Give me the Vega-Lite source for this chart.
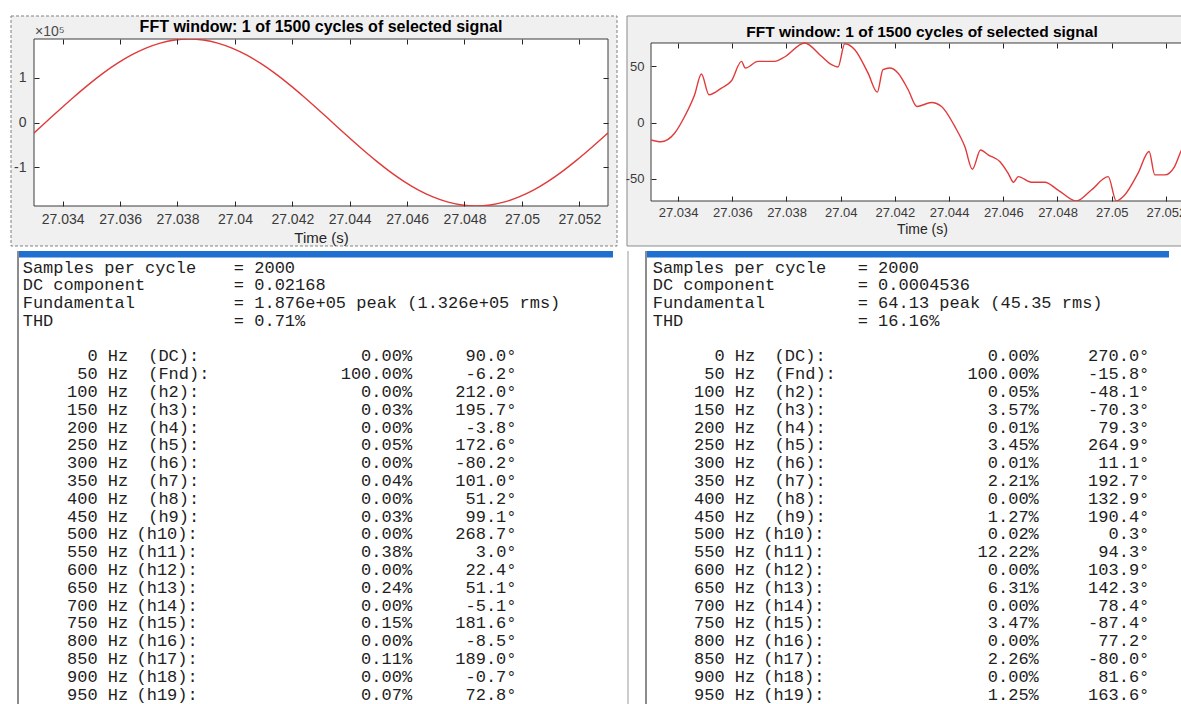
{
  "$schema": "https://vega.github.io/schema/vega-lite/v6.json",
  "background": "white",
  "padding": {"left": 10, "top": 15, "right": 0, "bottom": 0},
  "config": {"view": {"stroke": null}, "font": "Liberation Sans"},
  "datasets": {
    "sine": [
      {"t": 27.0329, "v": -29341}, {"t": 27.0334, "v": 0}, {"t": 27.0339, "v": 29341}, {"t": 27.0344, "v": 57968},
      {"t": 27.0349, "v": 85170}, {"t": 27.0354, "v": 110271}, {"t": 27.0359, "v": 132652}, {"t": 27.0364, "v": 151768},
      {"t": 27.0369, "v": 167152}, {"t": 27.0374, "v": 178426}, {"t": 27.0379, "v": 185293}, {"t": 27.0384, "v": 187600},
      {"t": 27.0389, "v": 185293}, {"t": 27.0394, "v": 178426}, {"t": 27.0399, "v": 167152}, {"t": 27.0404, "v": 151768},
      {"t": 27.0409, "v": 132652}, {"t": 27.0414, "v": 110271}, {"t": 27.0419, "v": 85170}, {"t": 27.0424, "v": 57968},
      {"t": 27.0429, "v": 29341}, {"t": 27.0434, "v": 0}, {"t": 27.0439, "v": -29341}, {"t": 27.0444, "v": -57968},
      {"t": 27.0449, "v": -85170}, {"t": 27.0454, "v": -110271}, {"t": 27.0459, "v": -132652}, {"t": 27.0464, "v": -151768},
      {"t": 27.0469, "v": -167152}, {"t": 27.0474, "v": -178426}, {"t": 27.0479, "v": -185293}, {"t": 27.0484, "v": -187600},
      {"t": 27.0489, "v": -185293}, {"t": 27.0494, "v": -178426}, {"t": 27.0499, "v": -167152}, {"t": 27.0504, "v": -151768},
      {"t": 27.0509, "v": -132652}, {"t": 27.0514, "v": -110271}, {"t": 27.0519, "v": -85170}, {"t": 27.0524, "v": -57968},
      {"t": 27.0529, "v": -29341}, {"t": 27.0534, "v": 0}
    ],
    "distorted": [
      {"t": 27.0330, "v": -15.5}, {"t": 27.03336, "v": -17.1}, {"t": 27.03387, "v": -9.5}, {"t": 27.03424, "v": 5.3},
      {"t": 27.03461, "v": 24.6}, {"t": 27.03486, "v": 42.9}, {"t": 27.03514, "v": 24.6}, {"t": 27.0356, "v": 30.4},
      {"t": 27.03597, "v": 37.0}, {"t": 27.03634, "v": 54.1}, {"t": 27.03648, "v": 48.2}, {"t": 27.03695, "v": 54.1},
      {"t": 27.03756, "v": 54.1}, {"t": 27.03793, "v": 58.0}, {"t": 27.03867, "v": 70.4}, {"t": 27.03929, "v": 58.6},
      {"t": 27.03966, "v": 51.2}, {"t": 27.0399, "v": 49.1}, {"t": 27.04015, "v": 69.8}, {"t": 27.04052, "v": 64.5},
      {"t": 27.04101, "v": 43.7}, {"t": 27.04135, "v": 26.9}, {"t": 27.04156, "v": 46.8}, {"t": 27.04181, "v": 48.2},
      {"t": 27.04212, "v": 43.7}, {"t": 27.04249, "v": 29.0}, {"t": 27.04281, "v": 14.2}, {"t": 27.04335, "v": 17.7},
      {"t": 27.04372, "v": 14.2}, {"t": 27.04421, "v": -3.5}, {"t": 27.04458, "v": -21.3}, {"t": 27.04486, "v": -41.4},
      {"t": 27.04516, "v": -24.3}, {"t": 27.04544, "v": -28.7}, {"t": 27.04587, "v": -34.6}, {"t": 27.04618, "v": -45.0},
      {"t": 27.04638, "v": -52.9}, {"t": 27.04655, "v": -47.9}, {"t": 27.04704, "v": -52.9}, {"t": 27.04753, "v": -52.9},
      {"t": 27.04802, "v": -59.8}, {"t": 27.0487, "v": -69.5}, {"t": 27.04925, "v": -59.8}, {"t": 27.04987, "v": -47.9},
      {"t": 27.05017, "v": -69.5}, {"t": 27.05048, "v": -64.2}, {"t": 27.05097, "v": -45.0}, {"t": 27.05138, "v": -25.7},
      {"t": 27.05159, "v": -46.4}, {"t": 27.05196, "v": -46.4}, {"t": 27.05232, "v": -39.0}, {"t": 27.05261, "v": -22.8},
      {"t": 27.0530, "v": -15.5}
    ],
    "leftHeader": [
      {"line": 0, "label": "Samples per cycle", "value": "= 2000"},
      {"line": 1, "label": "DC component", "value": "= 0.02168"},
      {"line": 2, "label": "Fundamental", "value": "= 1.876e+05 peak (1.326e+05 rms)"},
      {"line": 3, "label": "THD", "value": "= 0.71%"}
    ],
    "leftHarm": [
      {"line": 5, "freq": "0 Hz", "name": "(DC):", "mag": "0.00%", "phase": "90.0°"},
      {"line": 6, "freq": "50 Hz", "name": "(Fnd):", "mag": "100.00%", "phase": "-6.2°"},
      {"line": 7, "freq": "100 Hz", "name": "(h2):", "mag": "0.00%", "phase": "212.0°"},
      {"line": 8, "freq": "150 Hz", "name": "(h3):", "mag": "0.03%", "phase": "195.7°"},
      {"line": 9, "freq": "200 Hz", "name": "(h4):", "mag": "0.00%", "phase": "-3.8°"},
      {"line": 10, "freq": "250 Hz", "name": "(h5):", "mag": "0.05%", "phase": "172.6°"},
      {"line": 11, "freq": "300 Hz", "name": "(h6):", "mag": "0.00%", "phase": "-80.2°"},
      {"line": 12, "freq": "350 Hz", "name": "(h7):", "mag": "0.04%", "phase": "101.0°"},
      {"line": 13, "freq": "400 Hz", "name": "(h8):", "mag": "0.00%", "phase": "51.2°"},
      {"line": 14, "freq": "450 Hz", "name": "(h9):", "mag": "0.03%", "phase": "99.1°"},
      {"line": 15, "freq": "500 Hz", "name": "(h10):", "mag": "0.00%", "phase": "268.7°"},
      {"line": 16, "freq": "550 Hz", "name": "(h11):", "mag": "0.38%", "phase": "3.0°"},
      {"line": 17, "freq": "600 Hz", "name": "(h12):", "mag": "0.00%", "phase": "22.4°"},
      {"line": 18, "freq": "650 Hz", "name": "(h13):", "mag": "0.24%", "phase": "51.1°"},
      {"line": 19, "freq": "700 Hz", "name": "(h14):", "mag": "0.00%", "phase": "-5.1°"},
      {"line": 20, "freq": "750 Hz", "name": "(h15):", "mag": "0.15%", "phase": "181.6°"},
      {"line": 21, "freq": "800 Hz", "name": "(h16):", "mag": "0.00%", "phase": "-8.5°"},
      {"line": 22, "freq": "850 Hz", "name": "(h17):", "mag": "0.11%", "phase": "189.0°"},
      {"line": 23, "freq": "900 Hz", "name": "(h18):", "mag": "0.00%", "phase": "-0.7°"},
      {"line": 24, "freq": "950 Hz", "name": "(h19):", "mag": "0.07%", "phase": "72.8°"}
    ],
    "rightHeader": [
      {"line": 0, "label": "Samples per cycle", "value": "= 2000"},
      {"line": 1, "label": "DC component", "value": "= 0.0004536"},
      {"line": 2, "label": "Fundamental", "value": "= 64.13 peak (45.35 rms)"},
      {"line": 3, "label": "THD", "value": "= 16.16%"}
    ],
    "rightHarm": [
      {"line": 5, "freq": "0 Hz", "name": "(DC):", "mag": "0.00%", "phase": "270.0°"},
      {"line": 6, "freq": "50 Hz", "name": "(Fnd):", "mag": "100.00%", "phase": "-15.8°"},
      {"line": 7, "freq": "100 Hz", "name": "(h2):", "mag": "0.05%", "phase": "-48.1°"},
      {"line": 8, "freq": "150 Hz", "name": "(h3):", "mag": "3.57%", "phase": "-70.3°"},
      {"line": 9, "freq": "200 Hz", "name": "(h4):", "mag": "0.01%", "phase": "79.3°"},
      {"line": 10, "freq": "250 Hz", "name": "(h5):", "mag": "3.45%", "phase": "264.9°"},
      {"line": 11, "freq": "300 Hz", "name": "(h6):", "mag": "0.01%", "phase": "11.1°"},
      {"line": 12, "freq": "350 Hz", "name": "(h7):", "mag": "2.21%", "phase": "192.7°"},
      {"line": 13, "freq": "400 Hz", "name": "(h8):", "mag": "0.00%", "phase": "132.9°"},
      {"line": 14, "freq": "450 Hz", "name": "(h9):", "mag": "1.27%", "phase": "190.4°"},
      {"line": 15, "freq": "500 Hz", "name": "(h10):", "mag": "0.02%", "phase": "0.3°"},
      {"line": 16, "freq": "550 Hz", "name": "(h11):", "mag": "12.22%", "phase": "94.3°"},
      {"line": 17, "freq": "600 Hz", "name": "(h12):", "mag": "0.00%", "phase": "103.9°"},
      {"line": 18, "freq": "650 Hz", "name": "(h13):", "mag": "6.31%", "phase": "142.3°"},
      {"line": 19, "freq": "700 Hz", "name": "(h14):", "mag": "0.00%", "phase": "78.4°"},
      {"line": 20, "freq": "750 Hz", "name": "(h15):", "mag": "3.47%", "phase": "-87.4°"},
      {"line": 21, "freq": "800 Hz", "name": "(h16):", "mag": "0.00%", "phase": "77.2°"},
      {"line": 22, "freq": "850 Hz", "name": "(h17):", "mag": "2.26%", "phase": "-80.0°"},
      {"line": 23, "freq": "900 Hz", "name": "(h18):", "mag": "0.00%", "phase": "81.6°"},
      {"line": 24, "freq": "950 Hz", "name": "(h19):", "mag": "1.25%", "phase": "163.6°"}
    ]
  },
  "spacing": 3,
  "align": "none",
  "vconcat": [
    {
      "spacing": 7,
      "align": "none",
      "hconcat": [
        {
          "width": 574,
          "height": 167,
          "layer": [
            {
              "data": {"values": [{}]},
              "mark": {"type": "rect", "fill": "#f0f0f0", "stroke": "#808080", "strokeDash": [3, 2], "strokeWidth": 1, "clip": false},
              "encoding": {
                "x": {"datum": 27.032199, "type": "quantitative", "scale": {"domain": [27.033, 27.053], "nice": false, "zero": false}, "axis": null},
                "x2": {"datum": 27.053314},
                "y": {"datum": 239274, "type": "quantitative", "scale": {"domain": [-187600, 187600], "nice": false, "zero": false}, "axis": null},
                "y2": {"datum": -277467}
              }
            },
            {
              "data": {"values": [{}]},
              "mark": {"type": "rect", "fill": "white", "stroke": "#3c3c3c", "strokeWidth": 1},
              "encoding": {
                "x": {"datum": 27.033, "type": "quantitative", "axis": {"orient": "top", "values": [27.034, 27.036, 27.038, 27.04, 27.042, 27.044, 27.046, 27.048, 27.05, 27.052], "labels": false, "domain": false, "grid": false, "tickSize": -5, "tickColor": "#262626", "title": null, "zindex": 1}},
                "x2": {"datum": 27.053},
                "y": {"datum": -187600, "type": "quantitative", "axis": {"orient": "right", "values": [-100000, 0, 100000], "labels": false, "domain": false, "grid": false, "tickSize": -5, "tickColor": "#262626", "title": null, "zindex": 1}},
                "y2": {"datum": 187600}
              }
            },
            {
              "data": {"name": "sine"},
              "mark": {"type": "line", "color": "#e03a3a", "strokeWidth": 1.4, "clip": true, "interpolate": "monotone"},
              "encoding": {
                "x": {"field": "t", "type": "quantitative", "axis": {"orient": "bottom", "values": [27.034, 27.036, 27.038, 27.04, 27.042, 27.044, 27.046, 27.048, 27.05, 27.052], "labelExpr": "'' + datum.value", "tickSize": -5, "tickColor": "#262626", "labelPadding": 11, "labelFontSize": 14, "labelColor": "#3a3a3a", "domain": false, "grid": false, "title": "Time (s)", "titleFontSize": 15, "titleFontWeight": "normal", "titleColor": "#262626", "titlePadding": 4, "zindex": 1}},
                "y": {"field": "v", "type": "quantitative", "axis": {"orient": "left", "values": [-100000, 0, 100000], "labelExpr": "'' + (datum.value / 100000)", "tickSize": -5, "tickColor": "#262626", "labelPadding": 13, "labelFontSize": 14, "labelColor": "#3a3a3a", "domain": false, "grid": false, "title": null, "zindex": 1}}
              }
            },
            {
              "data": {"values": [{"caption": "FFT window: 1 of 1500 cycles of selected signal"}]},
              "mark": {"type": "text", "fontSize": 16, "fontWeight": "bold", "align": "center", "baseline": "alphabetic", "dy": -7, "color": "#000000"},
              "encoding": {
                "x": {"datum": 27.043, "type": "quantitative", "axis": null},
                "y": {"datum": 187600, "type": "quantitative", "axis": null},
                "text": {"field": "caption"}
              }
            },
            {
              "data": {"values": [{"caption": "×10⁵"}]},
              "mark": {"type": "text", "fontSize": 14, "align": "left", "baseline": "alphabetic", "dx": 1, "dy": -3, "color": "#4a4a4a"},
              "encoding": {
                "x": {"datum": 27.033, "type": "quantitative", "axis": null},
                "y": {"datum": 187600, "type": "quantitative", "axis": null},
                "text": {"field": "caption"}
              }
            }
          ]
        },
        {
          "width": 542,
          "height": 162,
          "layer": [
            {
              "data": {"values": [{}]},
              "mark": {"type": "rect", "fill": "#f0f0f0", "stroke": "#8a8a8a", "strokeWidth": 1, "clip": false},
              "encoding": {
                "x": {"datum": 27.032114, "type": "quantitative", "scale": {"domain": [27.033, 27.053], "nice": false, "zero": false}, "axis": null},
                "x2": {"datum": 27.053},
                "y": {"datum": 94.31, "type": "quantitative", "scale": {"domain": [-69.5, 73.94], "nice": false, "zero": false}, "axis": null},
                "y2": {"datum": -109.34}
              }
            },
            {
              "data": {"values": [{}]},
              "mark": {"type": "rect", "fill": "white", "stroke": "#3c3c3c", "strokeWidth": 1},
              "encoding": {
                "x": {"datum": 27.033, "type": "quantitative", "axis": {"orient": "top", "offset": -4, "values": [27.034, 27.036, 27.038, 27.04, 27.042, 27.044, 27.046, 27.048, 27.05, 27.052], "labels": false, "domain": false, "grid": false, "tickSize": -5, "tickColor": "#262626", "title": null, "zindex": 1}},
                "x2": {"datum": 27.053},
                "y": {"datum": -69.5, "type": "quantitative", "axis": {"orient": "right", "values": [-50, 0, 50], "labels": false, "domain": false, "grid": false, "tickSize": -5, "tickColor": "#262626", "title": null, "zindex": 1}},
                "y2": {"datum": 70.4}
              }
            },
            {
              "data": {"name": "distorted"},
              "mark": {"type": "line", "color": "#e03a3a", "strokeWidth": 1.4, "clip": true, "interpolate": "monotone"},
              "encoding": {
                "x": {"field": "t", "type": "quantitative", "axis": {"orient": "bottom", "values": [27.034, 27.036, 27.038, 27.04, 27.042, 27.044, 27.046, 27.048, 27.05, 27.052], "labelExpr": "'' + datum.value", "tickSize": -5, "tickColor": "#262626", "labelPadding": 10, "labelFontSize": 13, "labelColor": "#3a3a3a", "domain": false, "grid": false, "title": "Time (s)", "titleFontSize": 14, "titleFontWeight": "normal", "titleColor": "#262626", "titlePadding": 3, "zindex": 1}},
                "y": {"field": "v", "type": "quantitative", "axis": {"orient": "left", "values": [-50, 0, 50], "labelExpr": "'' + datum.value", "tickSize": -5, "tickColor": "#262626", "labelPadding": 12, "labelFontSize": 13, "labelColor": "#3a3a3a", "domain": false, "grid": false, "title": null, "zindex": 1}}
              }
            },
            {
              "data": {"values": [{"caption": "FFT window: 1 of 1500 cycles of selected signal"}]},
              "mark": {"type": "text", "fontSize": 15.5, "fontWeight": "bold", "align": "center", "baseline": "alphabetic", "dy": -6, "color": "#000000"},
              "encoding": {
                "x": {"datum": 27.043, "type": "quantitative", "axis": null},
                "y": {"datum": 70.4, "type": "quantitative", "axis": null},
                "text": {"field": "caption"}
              }
            }
          ]
        }
      ]
    },
    {
      "spacing": 1,
      "align": "none",
      "hconcat": [
        {
          "width": 580,
          "height": 455,
          "layer": [
            {
              "data": {"values": [{}]},
              "mark": {"type": "rect", "fill": "#1f6fd1"},
              "encoding": {
                "x": {"datum": -0.4007, "type": "quantitative", "scale": {"domain": [0.9633, 50.409], "nice": false, "zero": false}, "axis": null},
                "x2": {"datum": 50.324},
                "y": {"datum": -0.927, "type": "quantitative", "scale": {"domain": [-0.927, 24.635], "nice": false, "zero": false, "reverse": true}, "axis": null},
                "y2": {"datum": -0.562}
              }
            },
            {
              "data": {"values": [{}]},
              "mark": {"type": "rule", "color": "#8c8c8c", "strokeWidth": 2},
              "encoding": {
                "x": {"datum": -0.4007, "type": "quantitative", "axis": null},
                "y": {"datum": -0.927, "type": "quantitative", "axis": null},
                "y2": {"datum": 24.635}
              }
            },
            {
              "data": {"name": "leftHeader"},
              "mark": {"type": "text", "font": "Liberation Mono", "fontSize": 17, "align": "left", "baseline": "middle", "color": "#1e1e1e"},
              "encoding": {"x": {"datum": 0, "type": "quantitative", "axis": null}, "y": {"field": "line", "type": "quantitative", "axis": null}, "text": {"field": "label"}}
            },
            {
              "data": {"name": "leftHeader"},
              "mark": {"type": "text", "font": "Liberation Mono", "fontSize": 17, "align": "left", "baseline": "middle", "color": "#1e1e1e"},
              "encoding": {"x": {"datum": 18, "type": "quantitative", "axis": null}, "y": {"field": "line", "type": "quantitative", "axis": null}, "text": {"field": "value"}}
            },
            {
              "data": {"name": "leftHarm"},
              "mark": {"type": "text", "font": "Liberation Mono", "fontSize": 17, "align": "right", "baseline": "middle", "color": "#1e1e1e"},
              "encoding": {"x": {"datum": 9, "type": "quantitative", "axis": null}, "y": {"field": "line", "type": "quantitative", "axis": null}, "text": {"field": "freq"}}
            },
            {
              "data": {"name": "leftHarm"},
              "transform": [{"filter": "datum.line < 15"}],
              "mark": {"type": "text", "font": "Liberation Mono", "fontSize": 17, "align": "left", "baseline": "middle", "color": "#1e1e1e"},
              "encoding": {"x": {"datum": 10.7, "type": "quantitative", "axis": null}, "y": {"field": "line", "type": "quantitative", "axis": null}, "text": {"field": "name"}}
            },
            {
              "data": {"name": "leftHarm"},
              "transform": [{"filter": "datum.line >= 15"}],
              "mark": {"type": "text", "font": "Liberation Mono", "fontSize": 17, "align": "left", "baseline": "middle", "color": "#1e1e1e"},
              "encoding": {"x": {"datum": 9.7, "type": "quantitative", "axis": null}, "y": {"field": "line", "type": "quantitative", "axis": null}, "text": {"field": "name"}}
            },
            {
              "data": {"name": "leftHarm"},
              "mark": {"type": "text", "font": "Liberation Mono", "fontSize": 17, "align": "right", "baseline": "middle", "color": "#1e1e1e"},
              "encoding": {"x": {"datum": 33.2, "type": "quantitative", "axis": null}, "y": {"field": "line", "type": "quantitative", "axis": null}, "text": {"field": "mag"}}
            },
            {
              "data": {"name": "leftHarm"},
              "mark": {"type": "text", "font": "Liberation Mono", "fontSize": 17, "align": "right", "baseline": "middle", "color": "#1e1e1e"},
              "encoding": {"x": {"datum": 42.1, "type": "quantitative", "axis": null}, "y": {"field": "line", "type": "quantitative", "axis": null}, "text": {"field": "phase"}}
            }
          ]
        },
        {
          "width": 567,
          "height": 455,
          "layer": [
            {
              "data": {"values": [{}]},
              "mark": {"type": "rect", "fill": "#1f6fd1"},
              "encoding": {
                "x": {"datum": -0.588, "type": "quantitative", "scale": {"domain": [-3.3099, 46.471], "nice": false, "zero": false}, "axis": null},
                "x2": {"datum": 45.329},
                "y": {"datum": -0.927, "type": "quantitative", "scale": {"domain": [-0.927, 24.635], "nice": false, "zero": false, "reverse": true}, "axis": null},
                "y2": {"datum": -0.562}
              }
            },
            {
              "data": {"values": [{}]},
              "mark": {"type": "rule", "color": "#8c8c8c", "strokeWidth": 2},
              "encoding": {
                "x": {"datum": -0.588, "type": "quantitative", "axis": null},
                "y": {"datum": -0.927, "type": "quantitative", "axis": null},
                "y2": {"datum": 24.635}
              }
            },
            {
              "data": {"values": [{}]},
              "mark": {"type": "rule", "color": "#9a9a9a", "strokeWidth": 1},
              "encoding": {
                "x": {"datum": -2.169, "type": "quantitative", "axis": null},
                "y": {"datum": -0.927, "type": "quantitative", "axis": null},
                "y2": {"datum": 24.635}
              }
            },
            {
              "data": {"name": "rightHeader"},
              "mark": {"type": "text", "font": "Liberation Mono", "fontSize": 17, "align": "left", "baseline": "middle", "color": "#1e1e1e"},
              "encoding": {"x": {"datum": 0, "type": "quantitative", "axis": null}, "y": {"field": "line", "type": "quantitative", "axis": null}, "text": {"field": "label"}}
            },
            {
              "data": {"name": "rightHeader"},
              "mark": {"type": "text", "font": "Liberation Mono", "fontSize": 17, "align": "left", "baseline": "middle", "color": "#1e1e1e"},
              "encoding": {"x": {"datum": 18, "type": "quantitative", "axis": null}, "y": {"field": "line", "type": "quantitative", "axis": null}, "text": {"field": "value"}}
            },
            {
              "data": {"name": "rightHarm"},
              "mark": {"type": "text", "font": "Liberation Mono", "fontSize": 17, "align": "right", "baseline": "middle", "color": "#1e1e1e"},
              "encoding": {"x": {"datum": 9, "type": "quantitative", "axis": null}, "y": {"field": "line", "type": "quantitative", "axis": null}, "text": {"field": "freq"}}
            },
            {
              "data": {"name": "rightHarm"},
              "transform": [{"filter": "datum.line < 15"}],
              "mark": {"type": "text", "font": "Liberation Mono", "fontSize": 17, "align": "left", "baseline": "middle", "color": "#1e1e1e"},
              "encoding": {"x": {"datum": 10.7, "type": "quantitative", "axis": null}, "y": {"field": "line", "type": "quantitative", "axis": null}, "text": {"field": "name"}}
            },
            {
              "data": {"name": "rightHarm"},
              "transform": [{"filter": "datum.line >= 15"}],
              "mark": {"type": "text", "font": "Liberation Mono", "fontSize": 17, "align": "left", "baseline": "middle", "color": "#1e1e1e"},
              "encoding": {"x": {"datum": 9.7, "type": "quantitative", "axis": null}, "y": {"field": "line", "type": "quantitative", "axis": null}, "text": {"field": "name"}}
            },
            {
              "data": {"name": "rightHarm"},
              "mark": {"type": "text", "font": "Liberation Mono", "fontSize": 17, "align": "right", "baseline": "middle", "color": "#1e1e1e"},
              "encoding": {"x": {"datum": 33.9, "type": "quantitative", "axis": null}, "y": {"field": "line", "type": "quantitative", "axis": null}, "text": {"field": "mag"}}
            },
            {
              "data": {"name": "rightHarm"},
              "mark": {"type": "text", "font": "Liberation Mono", "fontSize": 17, "align": "right", "baseline": "middle", "color": "#1e1e1e"},
              "encoding": {"x": {"datum": 43.6, "type": "quantitative", "axis": null}, "y": {"field": "line", "type": "quantitative", "axis": null}, "text": {"field": "phase"}}
            }
          ]
        }
      ]
    }
  ]
}
